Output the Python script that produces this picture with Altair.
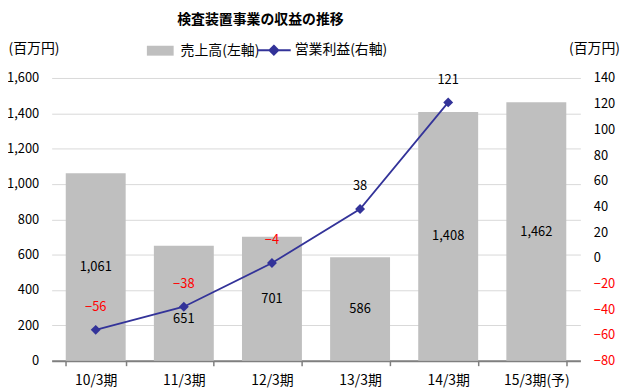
import altair as alt
import pandas as pd

categories = ["10/3期", "11/3期", "12/3期", "13/3期", "14/3期", "15/3期(予)"]
sales = [1061, 651, 701, 586, 1408, 1462]
profit = [-56, -38, -4, 38, 121, None]
left_ticks = [0, 200, 400, 600, 800, 1000, 1200, 1400, 1600]
right_ticks = [-80, -60, -40, -20, 0, 20, 40, 60, 80, 100, 120, 140]

BAR = "#BFBFBF"
LINE = "#333399"
RED = "#FF0000"
FONT = "Noto Sans CJK JP"

bar_df = pd.DataFrame({"cat": categories, "sales": sales, "s": "売上高(左軸)"})
line_df = pd.DataFrame({"cat": categories, "profit": profit, "s": "営業利益(右軸)"}).dropna()

x = alt.X("cat:N", sort=categories, title=None,
          scale=alt.Scale(paddingInner=0.32, paddingOuter=0.16),
          axis=alt.Axis(labelAngle=0, labelFontSize=14, labelColor="black", labelPadding=8,
                        domain=True, domainColor="#7F7F7F", domainWidth=2, ticks=True,
                        tickBand="extent", tickColor="#7F7F7F", tickSize=5, tickWidth=1.5,
                        grid=False))
x_plain = alt.X("cat:N", sort=categories, title=None)

yl_scale = alt.Scale(domain=[0, 1600], nice=False)
yr_scale = alt.Scale(domain=[-80, 140], nice=False)

bars = alt.Chart(bar_df).mark_bar(color=BAR).encode(
    x=x,
    y=alt.Y("sales:Q", scale=yl_scale,
            axis=alt.Axis(values=left_ticks, format=",.0f", grid=True, gridColor="#D9D9D9",
                          domain=False, ticks=False, labelFontSize=13, labelColor="black",
                          labelPadding=13, title="(百万円)", titleAngle=0, titleX=-44,
                          titleY=-30, titleAlign="left", titleBaseline="middle",
                          titleFontSize=14, titleFontWeight="normal", titleColor="black")),
    color=alt.Color("s:N", scale=alt.Scale(range=[BAR]),
                    legend=alt.Legend(orient="none", legendX=96, legendY=-41, title=None,
                                      padding=0,
                                      symbolType="M-1,-0.37H1V0.37H-1Z", symbolSize=729,
                                      symbolStrokeWidth=0, labelFontSize=14, labelOffset=7,
                                      labelColor="black")),
)

bar_text_base = alt.Chart(bar_df).transform_calculate(mid="datum.sales / 2")
bar_text = bar_text_base.transform_filter("datum.cat != '11/3期'").mark_text(
    fontSize=13, color="black").encode(
    x=x_plain, y=alt.Y("mid:Q", scale=yl_scale, axis=None),
    text=alt.Text("sales:Q", format=",.0f"))
bar_text2 = bar_text_base.transform_filter("datum.cat == '11/3期'").mark_text(
    fontSize=13, color="black", dy=16).encode(
    x=x_plain, y=alt.Y("mid:Q", scale=yl_scale, axis=None),
    text=alt.Text("sales:Q", format=",.0f"))

line = alt.Chart(line_df).mark_line(strokeWidth=1.8).encode(
    x=x_plain,
    y=alt.Y("profit:Q", scale=yr_scale,
            axis=alt.Axis(orient="right", values=right_ticks, format="d", grid=False,
                          domain=False, ticks=False, labelFontSize=13, labelPadding=13,
                          labelColor={"condition": {"test": "datum.value < 0", "value": RED},
                                      "value": "black"},
                          title="(百万円)", titleAngle=0, titleX=-12, titleY=-30,
                          titleAlign="left", titleBaseline="middle", titleFontSize=14,
                          titleFontWeight="normal", titleColor="black")),
    color=alt.Color("s:N", scale=alt.Scale(range=[LINE]),
                    legend=alt.Legend(orient="none", legendX=206, legendY=-46, title=None,
                                      padding=0,
                                      symbolType="M-1,0H1M0,-0.26L0.26,0L0,0.26L-0.26,0Z",
                                      symbolSize=1156, symbolStrokeWidth=2,
                                      symbolFillColor=LINE, symbolStrokeColor=LINE,
                                      labelFontSize=14, labelOffset=3, labelColor="black")),
)
pts = alt.Chart(line_df).mark_point(shape="diamond", filled=True, size=100, opacity=1,
                                    color=LINE).encode(
    x=x_plain, y=alt.Y("profit:Q", scale=yr_scale, axis=None))
lbl = alt.Chart(line_df).mark_text(fontSize=13, dy=-23).encode(
    x=x_plain, y=alt.Y("profit:Q", scale=yr_scale, axis=None),
    text=alt.Text("profit:Q", format="d"),
    color=alt.condition("datum.profit < 0", alt.value(RED), alt.value("black")))

chart = alt.layer(bars, bar_text, bar_text2, line, pts, lbl).resolve_scale(
    y="independent", color="independent").properties(
    width=533, height=285,
    title=alt.TitleParams("検査装置事業の収益の推移", anchor="middle", frame="group",
                          fontSize=14, fontWeight="bold", dx=-56, offset=5, color="black"),
    autosize=alt.AutoSizeParams(type="none"),
    padding={"left": 44, "top": 69, "right": 47, "bottom": 30},
).configure(font=FONT).configure_view(stroke=None)

chart.save("out.html", embed_options={"renderer": "svg", "actions": False})
